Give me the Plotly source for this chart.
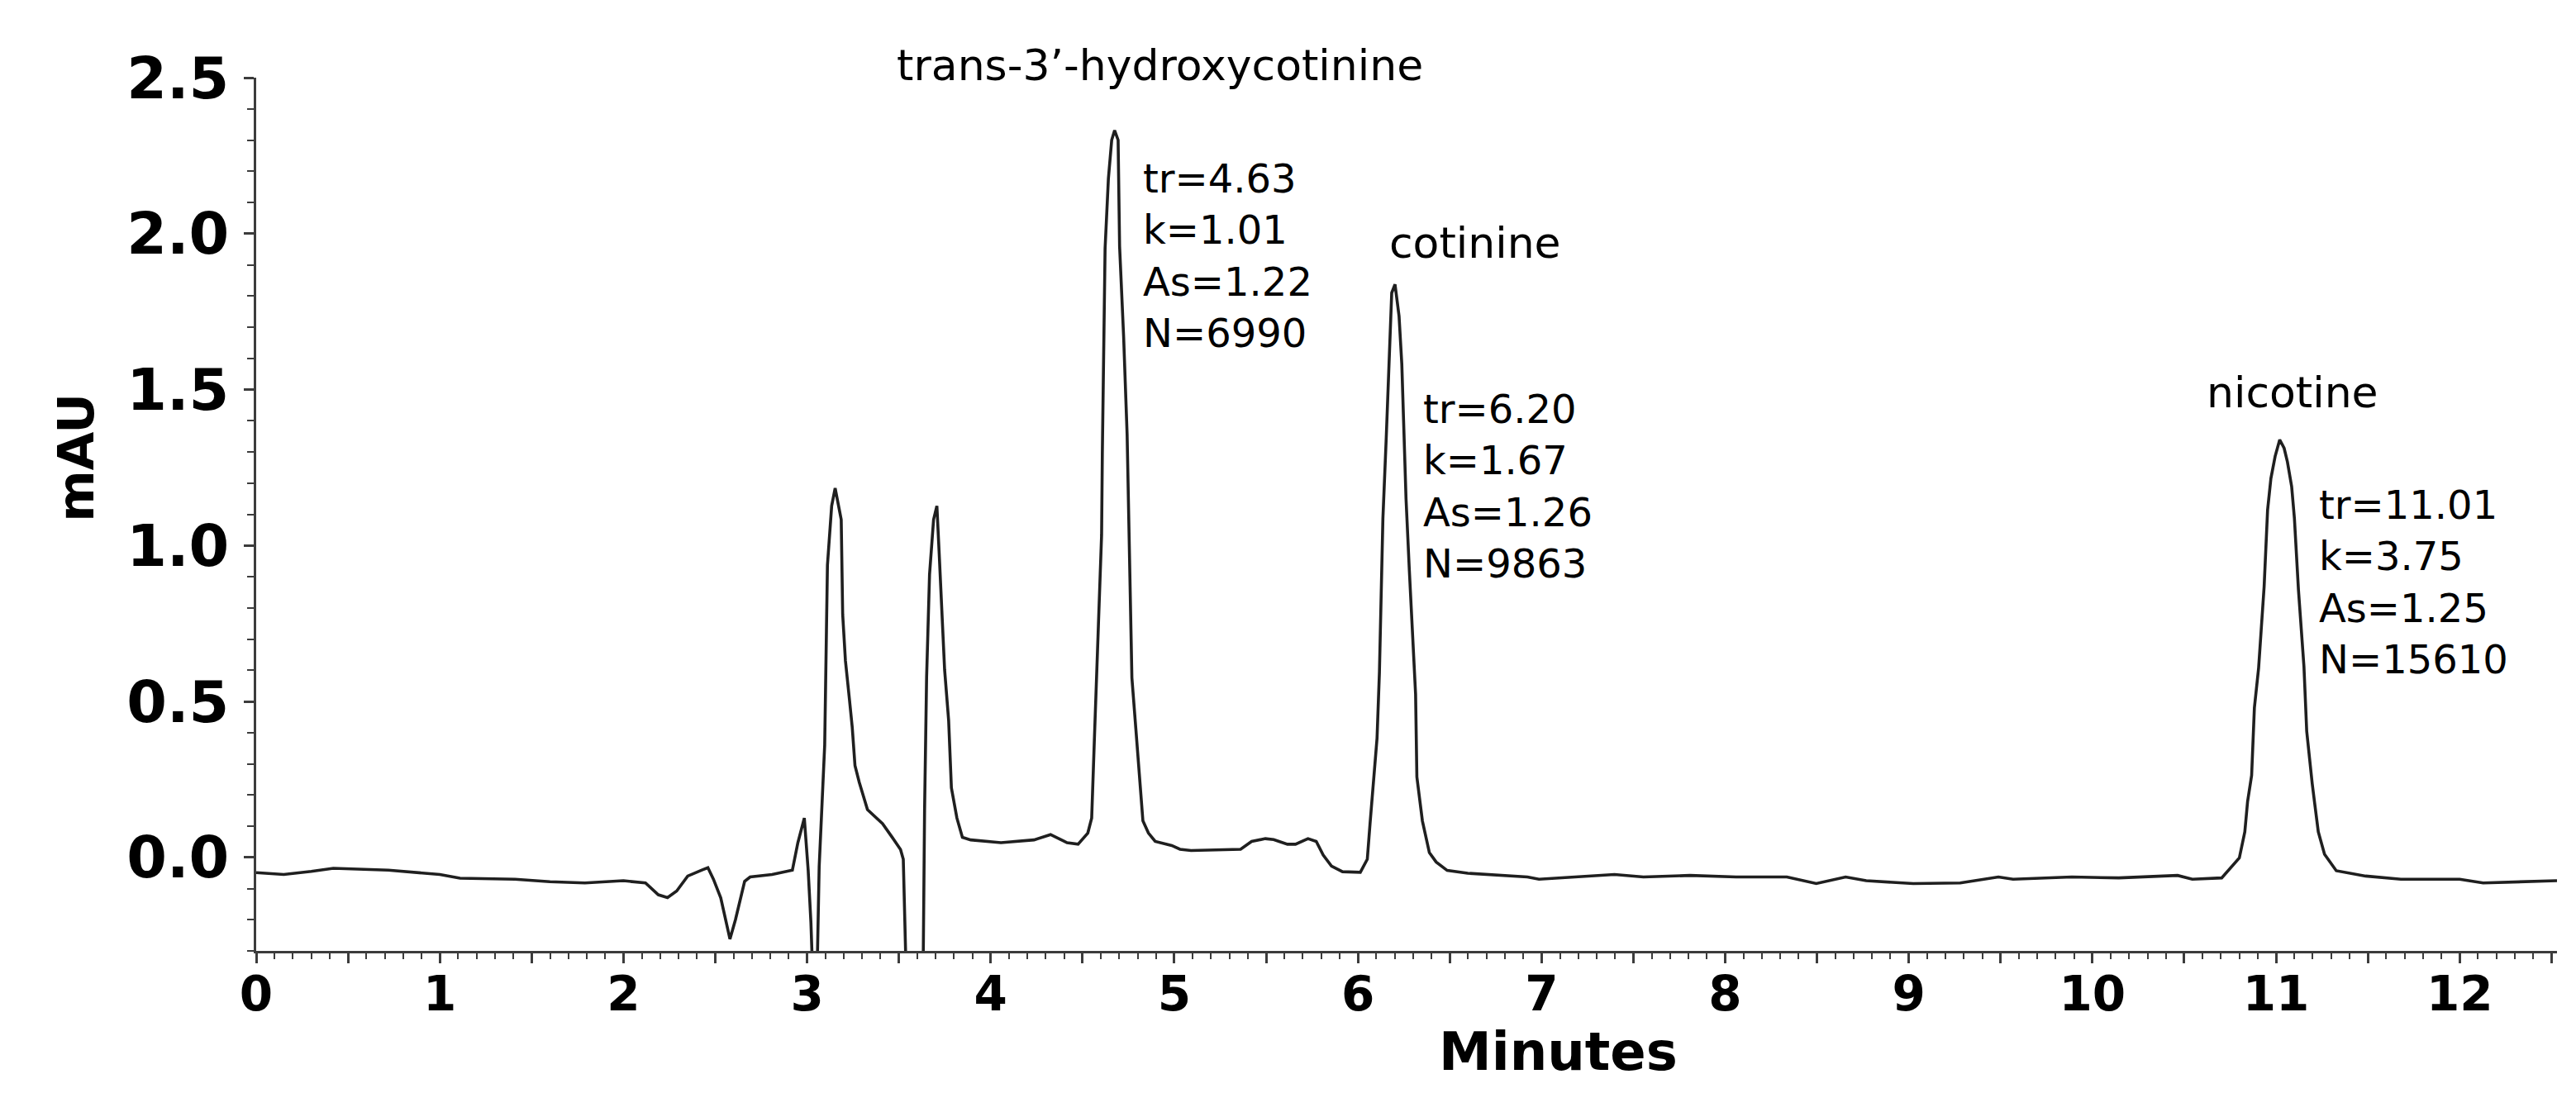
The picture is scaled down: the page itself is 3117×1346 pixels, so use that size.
import plotly.graph_objects as go

# ---- data ----
time_min = [
    0.00, 0.15, 0.30, 0.42, 0.72, 1.00, 1.11, 1.41, 1.60, 1.79, 2.00, 2.12, 2.19, 2.24, 2.29,
    2.35, 2.43, 2.46, 2.49, 2.53, 2.58, 2.61, 2.66, 2.69, 2.81, 2.92, 2.95, 2.985, 3.006, 3.021,
    3.035, 3.052, 3.066, 3.081, 3.096, 3.111, 3.134, 3.153, 3.186, 3.194, 3.209, 3.231, 3.246,
    3.261, 3.284, 3.329, 3.411, 3.464, 3.509, 3.524, 3.531, 3.545, 3.630, 3.640, 3.651, 3.667,
    3.689, 3.707, 3.719, 3.734, 3.749, 3.771, 3.786, 3.816, 3.846, 3.891, 4.056, 4.236, 4.326,
    4.416, 4.476, 4.529, 4.550, 4.566, 4.581, 4.596, 4.604, 4.608, 4.623, 4.641, 4.659, 4.675,
    4.694, 4.702, 4.724, 4.743, 4.754, 4.761, 4.769, 4.791, 4.806, 4.829, 4.859, 4.896, 4.986,
    5.031, 5.091, 5.361, 5.421, 5.496, 5.541, 5.616, 5.660, 5.728, 5.773, 5.811, 5.856, 5.916,
    6.013, 6.051, 6.066, 6.081, 6.104, 6.117, 6.136, 6.154, 6.169, 6.184, 6.202, 6.224, 6.239,
    6.262, 6.280, 6.299, 6.314, 6.321, 6.351, 6.389, 6.426, 6.486, 6.598, 6.923, 6.986, 7.397,
    7.555, 7.808, 8.060, 8.336, 8.496, 8.656, 8.768, 9.024, 9.280, 9.488, 9.568, 9.888, 10.144,
    10.464, 10.544, 10.704, 10.800, 10.830, 10.845, 10.867, 10.882, 10.905, 10.920, 10.935,
    10.954, 10.972, 10.995, 11.020, 11.044, 11.062, 11.085, 11.100, 11.122, 11.137, 11.152,
    11.167, 11.182, 11.197, 11.211, 11.230, 11.264, 11.328, 11.488, 11.680, 12.000, 12.128,
    12.530,
]
signal_mau = [
    -0.049, -0.055, -0.045, -0.035, -0.041, -0.055, -0.067, -0.070, -0.078, -0.082, -0.075,
    -0.082, -0.120, -0.129, -0.108, -0.060, -0.040, -0.033, -0.070, -0.130, -0.262, -0.200,
    -0.077, -0.063, -0.055, -0.041, 0.047, 0.126, -0.041, -0.209, -0.450, -0.450, -0.030,
    0.148, 0.360, 0.937, 1.127, 1.184, 1.083, 0.779, 0.630, 0.505, 0.417, 0.294, 0.241, 0.153,
    0.108, 0.064, 0.025, -0.006, -0.218, -0.500, -0.500, 0.153, 0.576, 0.907, 1.083, 1.127,
    0.981, 0.796, 0.602, 0.439, 0.223, 0.126, 0.064, 0.056, 0.047, 0.056, 0.073, 0.047, 0.042,
    0.078, 0.126, 0.400, 0.642, 0.876, 1.034, 1.294, 1.952, 2.176, 2.300, 2.331, 2.300, 1.960,
    1.669, 1.356, 1.034, 0.876, 0.576, 0.408, 0.290, 0.117, 0.078, 0.051, 0.038, 0.026, 0.022,
    0.026, 0.051, 0.060, 0.057, 0.042, 0.042, 0.060, 0.051, 0.007, -0.028, -0.046, -0.048,
    -0.006, 0.108, 0.223, 0.382, 0.593, 1.087, 1.343, 1.568, 1.810, 1.837, 1.735, 1.581, 1.149,
    0.920, 0.712, 0.523, 0.258, 0.117, 0.015, -0.015, -0.042, -0.051, -0.063, -0.070, -0.055,
    -0.063, -0.058, -0.063, -0.063, -0.084, -0.063, -0.075, -0.084, -0.082, -0.063, -0.070,
    -0.063, -0.066, -0.058, -0.070, -0.066, -0.002, 0.082, 0.179, 0.263, 0.479, 0.607, 0.735,
    0.867, 1.114, 1.215, 1.286, 1.339, 1.312, 1.268, 1.189, 1.087, 0.858, 0.730, 0.611, 0.404,
    0.311, 0.236, 0.170, 0.082, 0.010, -0.043, -0.060, -0.070, -0.070, -0.082, -0.075,
]

# peak labels (the first one sits just above the plot area, placed in paper units)
peak_names = ["trans-3\u2019-hydroxycotinine", "cotinine", "nicotine"]
peak_name_x = [4.92, 6.64, 11.09]
peak_name_y = [1.014, 1.97, 1.49]
peak_name_yref = ["paper", "y", "y"]
peak_stats = [
    ["tr=4.63", "k=1.01", "As=1.22", "N=6990"],
    ["tr=6.20", "k=1.67", "As=1.26", "N=9863"],
    ["tr=11.01", "k=3.75", "As=1.25", "N=15610"],
]
stats_x = [4.82, 6.345, 11.227]
stats_y = [1.93, 1.19, 0.884]

x_major = [i * 0.5 for i in range(26)]
x_labels = [str(int(v)) if v == int(v) else "" for v in x_major]
y_major = [0.0, 0.5, 1.0, 1.5, 2.0, 2.5]
y_labels = ["%.1f" % v for v in y_major]
x_title = "Minutes"
y_title = "mAU"

AXIS_COLOR = "#3c3c3c"
TICK_FONT = "DejaVu Sans"
LABEL_FONT = "DejaVu Sans"

fig = go.Figure()
fig.add_trace(go.Scatter(
    x=time_min, y=signal_mau, mode="lines",
    line=dict(color="#1f1f1f", width=3.6),
    showlegend=False, hoverinfo="skip",
))

for name, x, y, yref in zip(peak_names, peak_name_x, peak_name_y, peak_name_yref):
    fig.add_annotation(x=x, y=y, xref="x", yref=yref, text=name, showarrow=False,
                       xanchor="center", yanchor="middle",
                       font=dict(family=LABEL_FONT, size=52, color="black"))

for lines, x, y in zip(peak_stats, stats_x, stats_y):
    fig.add_annotation(x=x, y=y, xref="x", yref="y", text="<br>".join(lines),
                       showarrow=False, xanchor="left", yanchor="middle", align="left",
                       font=dict(family=LABEL_FONT, size=48, color="black"))

# axis titles
fig.add_annotation(x=0.566, y=-0.115, xref="paper", yref="paper", text="<b>%s</b>" % x_title,
                   showarrow=False, xanchor="center", yanchor="middle",
                   font=dict(family=TICK_FONT, size=64, color="black"))
fig.add_annotation(x=-0.0783, y=0.565, xref="paper", yref="paper", text="<b>%s</b>" % y_title,
                   showarrow=False, xanchor="center", yanchor="middle", textangle=-90,
                   font=dict(family=TICK_FONT, size=60, color="black"))

fig.update_xaxes(
    range=[0, 12.53], showline=True, linecolor=AXIS_COLOR, linewidth=2.5,
    showgrid=False, zeroline=False, mirror=False,
    tickmode="array", tickvals=x_major, ticktext=x_labels,
    ticks="outside", ticklen=12, tickwidth=2.5, tickcolor=AXIS_COLOR,
    minor=dict(dtick=0.1, tick0=0, ticks="outside", ticklen=7, tickwidth=2, tickcolor=AXIS_COLOR),
    tickfont=dict(family=TICK_FONT, size=58, color="black", weight="bold"),
    ticklabelstandoff=-12,
)
fig.update_yaxes(
    range=[-0.3, 2.5], showline=True, linecolor=AXIS_COLOR, linewidth=2.5,
    showgrid=False, zeroline=False,
    tickmode="array", tickvals=y_major, ticktext=y_labels,
    ticks="outside", ticklen=12, tickwidth=2.5, tickcolor=AXIS_COLOR,
    minor=dict(dtick=0.1, tick0=0, ticks="outside", ticklen=8, tickwidth=2, tickcolor=AXIS_COLOR),
    tickfont=dict(family=TICK_FONT, size=70, color="black", weight="bold"),
    ticklabelstandoff=4,
)

fig.update_layout(
    width=3117, height=1346,
    margin=dict(l=302, r=31, t=86, b=203, autoexpand=False),
    paper_bgcolor="white", plot_bgcolor="white",
)

fig.write_html("out.html")
